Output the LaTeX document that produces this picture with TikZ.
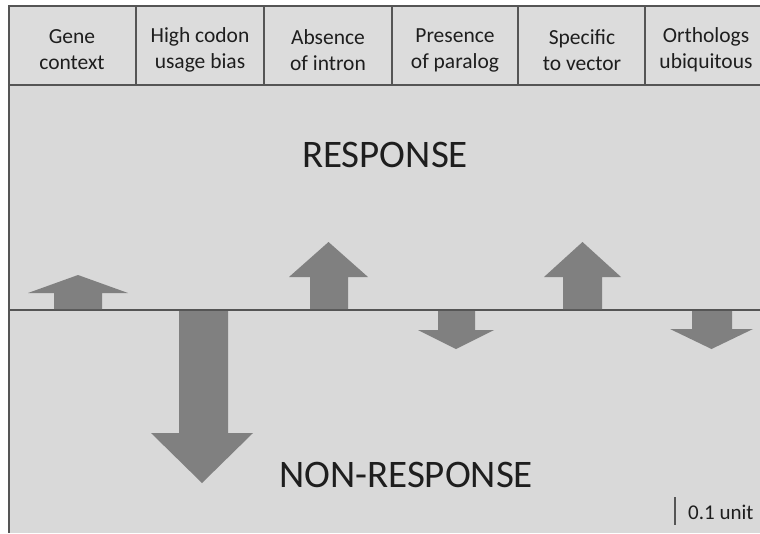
\documentclass[tikz,border=0pt]{standalone}
\usepackage{fontspec}
\setmainfont{Carlito}
\usetikzlibrary{positioning}

\definecolor{panelgray}{HTML}{D9D9D9}
\definecolor{headgray}{HTML}{DCDCDC}
\definecolor{arrowgray}{HTML}{808080}
\definecolor{linegray}{HTML}{555555}
\definecolor{textdark}{HTML}{1E1E1E}

\begin{document}
\begin{tikzpicture}[
    x=1pt,
    y=-1pt,
    headtext/.style={
        align=center,
        inner sep=0pt,
        text=textdark,
        font=\fontsize{21.5}{26}\selectfont
    },
    bigtext/.style={
        inner sep=0pt,
        text=textdark,
        font=\fontsize{39}{44}\selectfont
    },
    unittext/.style={
        inner sep=0pt,
        text=textdark,
        font=\fontsize{21}{25}\selectfont
    },
    frame/.style={draw=linegray, line width=2.6pt},
    divider/.style={draw=linegray, line width=1.8pt},
    bararrow/.style={fill=arrowgray, draw=none}
]
\useasboundingbox (0,0) rectangle (760,533);
\fill[white] (0,0) rectangle (760,533);

% Header row
\fill[headgray] (9,6) rectangle (760,84);
\draw[divider] (760,6) -- (9,6) -- (9,84);
\draw[divider] (136,6) -- (136,84);
\draw[divider] (264,6) -- (264,84);
\draw[divider] (392,6) -- (392,84);
\draw[divider] (518,6) -- (518,84);
\draw[divider] (645,6) -- (645,84);

\node[headtext] (hgene)    at (72,50)  {Gene\\context};
\node[headtext] (hcodon)   at (200,50) {High codon\\usage bias};
\node[headtext] (hintron)  at (328,50) {Absence\\of intron};
\node[headtext] (hparalog) at (455,50) {Presence\\of paralog};
\node[headtext] (hvector)  at (582,50) {Specific\\to vector};
\node[headtext] (hortho)   at (706,50) {Orthologs\\ubiquitous};

% Main panel
\fill[panelgray] (9,85) rectangle (760,533);
\draw[frame] (760,85) -- (9,85) -- (9,533);
\draw[frame] (9,310) -- (760,310);

\node[bigtext] (resp)    at (385,155) {RESPONSE};
\node[bigtext] (nonresp) at (406,475) {NON-RESPONSE};

% Arrows above the line
\fill[bararrow] (54,309) -- (54,293) -- (28,293) -- (78,275) -- (128,293) -- (102,293) -- (102,309) -- cycle;
\fill[bararrow] (310,309) -- (310,277) -- (289,277) -- (328.5,242) -- (368,277) -- (348,277) -- (348,309) -- cycle;
\fill[bararrow] (563,309) -- (563,277) -- (544,277) -- (582.5,242) -- (621,277) -- (602,277) -- (602,309) -- cycle;

% Arrows below the line
\fill[bararrow] (179,311) -- (179,433) -- (151,433) -- (202,483) -- (253,433) -- (228,433) -- (228,311) -- cycle;
\fill[bararrow] (438,311) -- (438,330) -- (418,330) -- (456,349) -- (494,330) -- (475,330) -- (475,311) -- cycle;
\fill[bararrow] (692,311) -- (692,329) -- (670,329) -- (711.5,349) -- (753,329) -- (732,329) -- (732,311) -- cycle;

% Scale bar
\coordinate (bartop) at (675,497);
\coordinate (barbot) at (675,525);
\draw[linegray, line width=1.5pt] (bartop) -- (barbot);
\node[unittext, anchor=west] (unit) at (688,512) {0.1 unit};

\end{tikzpicture}
\end{document}
